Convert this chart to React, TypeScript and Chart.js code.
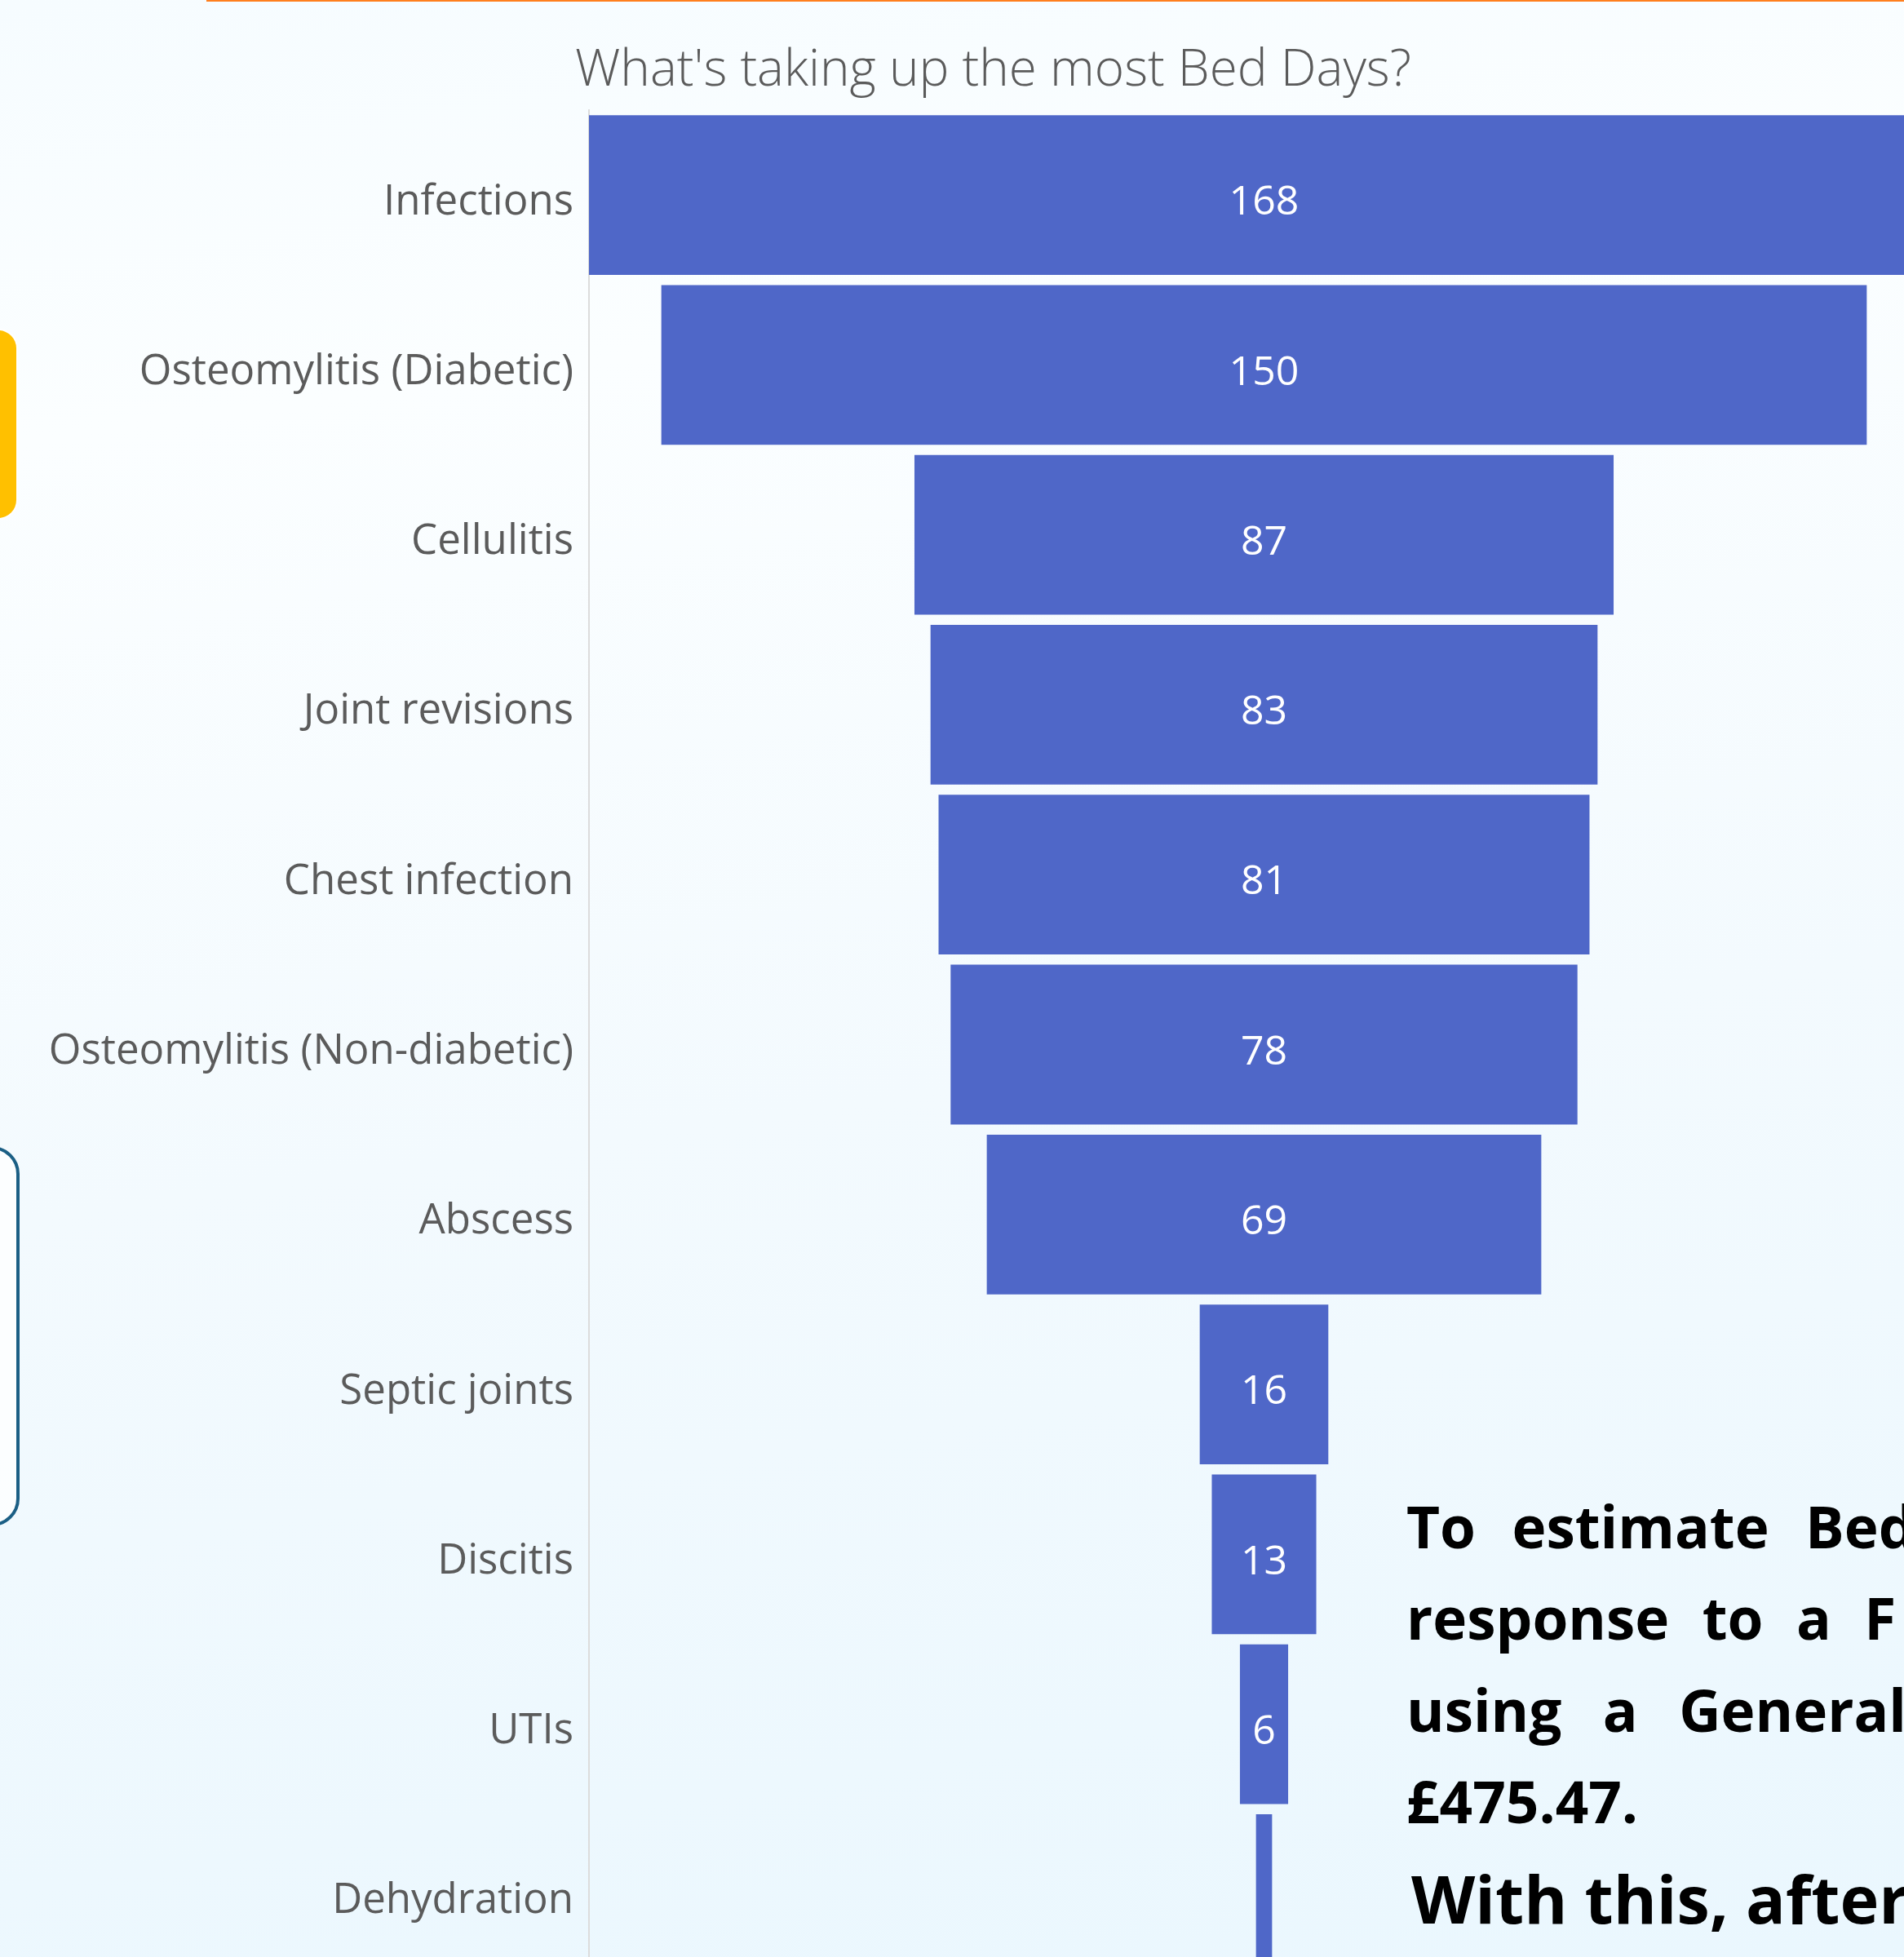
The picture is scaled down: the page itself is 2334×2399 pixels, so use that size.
import React, { useEffect, useRef } from "react";
import { Chart, registerables } from "chart.js";

Chart.register(...registerables);

const categories: string[] = [
  "Infections",
  "Osteomylitis (Diabetic)",
  "Cellulitis",
  "Joint revisions",
  "Chest infection",
  "Osteomylitis (Non-diabetic)",
  "Abscess",
  "Septic joints",
  "Discitis",
  "UTIs",
  "Dehydration",
];

const bedDays: number[] = [168, 150, 87, 83, 81, 78, 69, 16, 13, 6, 2];

const chartTitle = "What's taking up the most Bed Days?";

const noteLines: string[] = [
  "To estimate Bed",
  "response to a F",
  "using a General",
  "£475.47.",
];
const noteLastLine = "With this, after";

const FONT = "'Open Sans', 'Noto Sans', sans-serif";
const BAR_COLOR = "#4F67C8";

const valueLabelPlugin = {
  id: "funnelValueLabels",
  afterDatasetsDraw(chart: any) {
    const ctx = chart.ctx;
    const meta = chart.getDatasetMeta(0);
    ctx.save();
    ctx.fillStyle = "#ffffff";
    ctx.font = `400 50px ${FONT}`;
    ctx.textAlign = "center";
    ctx.textBaseline = "middle";
    meta.data.forEach((el: any, i: number) => {
      const text = String(bedDays[i]);
      const w = Math.abs(el.x - el.base);
      if (ctx.measureText(text).width + 4 > w) return;
      const cx = (el.x + el.base) / 2;
      ctx.fillText(text, cx, el.y + 10);
    });
    ctx.restore();
  },
};

function FunnelChart() {
  const ref = useRef<HTMLCanvasElement | null>(null);
  useEffect(() => {
    if (!ref.current) return;
    const center = Math.max(...bedDays) / 2;
    const ranges = bedDays.map((v) => [center - v / 2, center + v / 2]);
    const chart = new Chart(ref.current, {
      type: "bar",
      data: {
        labels: categories,
        datasets: [
          {
            data: ranges as any,
            backgroundColor: BAR_COLOR,
            borderWidth: 0,
            barPercentage: 0.94,
            categoryPercentage: 1,
          },
        ],
      },
      options: {
        indexAxis: "y",
        animation: false,
        responsive: false,
        maintainAspectRatio: false,
        devicePixelRatio: 1,
        layout: { padding: { top: 135, left: 0, right: 0, bottom: 0 } },
        plugins: {
          legend: { display: false },
          tooltip: { enabled: false },
          title: { display: false },
        },
        scales: {
          x: {
            type: "linear",
            min: 0,
            max: Math.max(...bedDays),
            display: false,
          },
          y: {
            type: "category",
            grid: { display: false, drawTicks: false },
            border: { display: true, color: "#dcdcdc", width: 2 },
            ticks: {
              color: "#5b5b5b",
              font: { family: FONT, size: 51, weight: "400" as any },
              padding: 19,
              labelOffset: 9,
            },
            afterFit: (scale: any) => {
              scale.width = 722;
              scale.paddingTop = 0;
              scale.paddingBottom = 0;
            },
          },
        },
      },
      plugins: [valueLabelPlugin],
    });
    return () => chart.destroy();
  }, []);
  return (
    <canvas
      ref={ref}
      width={2377}
      height={2426}
      style={{ position: "absolute", left: 0, top: 0, width: 2377, height: 2426 }}
    />
  );
}

export default function App() {
  const lineTops = [1821, 1933, 2046, 2158];
  const wordSpacings = [26, 22, 32, 0];
  return (
    <div
      style={{
        position: "fixed",
        left: 0,
        top: 0,
        width: 2334,
        height: 2399,
        overflow: "hidden",
        background:
          "linear-gradient(172deg, #f6fcff 0%, #fbfeff 20%, #f3fafe 55%, #eaf7fe 100%)",
        fontFamily: FONT,
      }}
    >
      <div
        style={{
          position: "absolute",
          left: 253,
          top: 0,
          right: 0,
          height: 2,
          background: "#ff7f1e",
        }}
      />
      <div
        style={{
          position: "absolute",
          left: -24,
          top: 405,
          width: 44,
          height: 230,
          background: "#FFC000",
          borderRadius: 22,
          boxShadow: "0 0 0 2px #ffffff",
        }}
      />
      <div
        style={{
          position: "absolute",
          left: -44,
          top: 1405,
          width: 60,
          height: 458,
          border: "4px solid #1b5f85",
          borderRadius: 40,
          background: "rgba(255,255,255,0.75)",
        }}
      />
      <FunnelChart />
      <div
        style={{
          position: "absolute",
          left: 705,
          top: 39,
          fontSize: 62,
          fontWeight: 300,
          color: "#5b5b5b",
          whiteSpace: "nowrap",
          lineHeight: "84px",
        }}
      >
        {chartTitle}
      </div>
      {noteLines.map((t, i) => (
        <div
          key={i}
          style={{
            position: "absolute",
            left: 1724,
            top: lineTops[i],
            fontSize: 71,
            fontWeight: 700,
            color: "#000000",
            whiteSpace: "nowrap",
            lineHeight: "100px",
            wordSpacing: wordSpacings[i],
          }}
        >
          {t}
        </div>
      ))}
      <div
        style={{
          position: "absolute",
          left: 1730,
          top: 2272,
          fontSize: 81,
          fontWeight: 700,
          color: "#000000",
          whiteSpace: "nowrap",
          lineHeight: "110px",
        }}
      >
        {noteLastLine}
      </div>
    </div>
  );
}
